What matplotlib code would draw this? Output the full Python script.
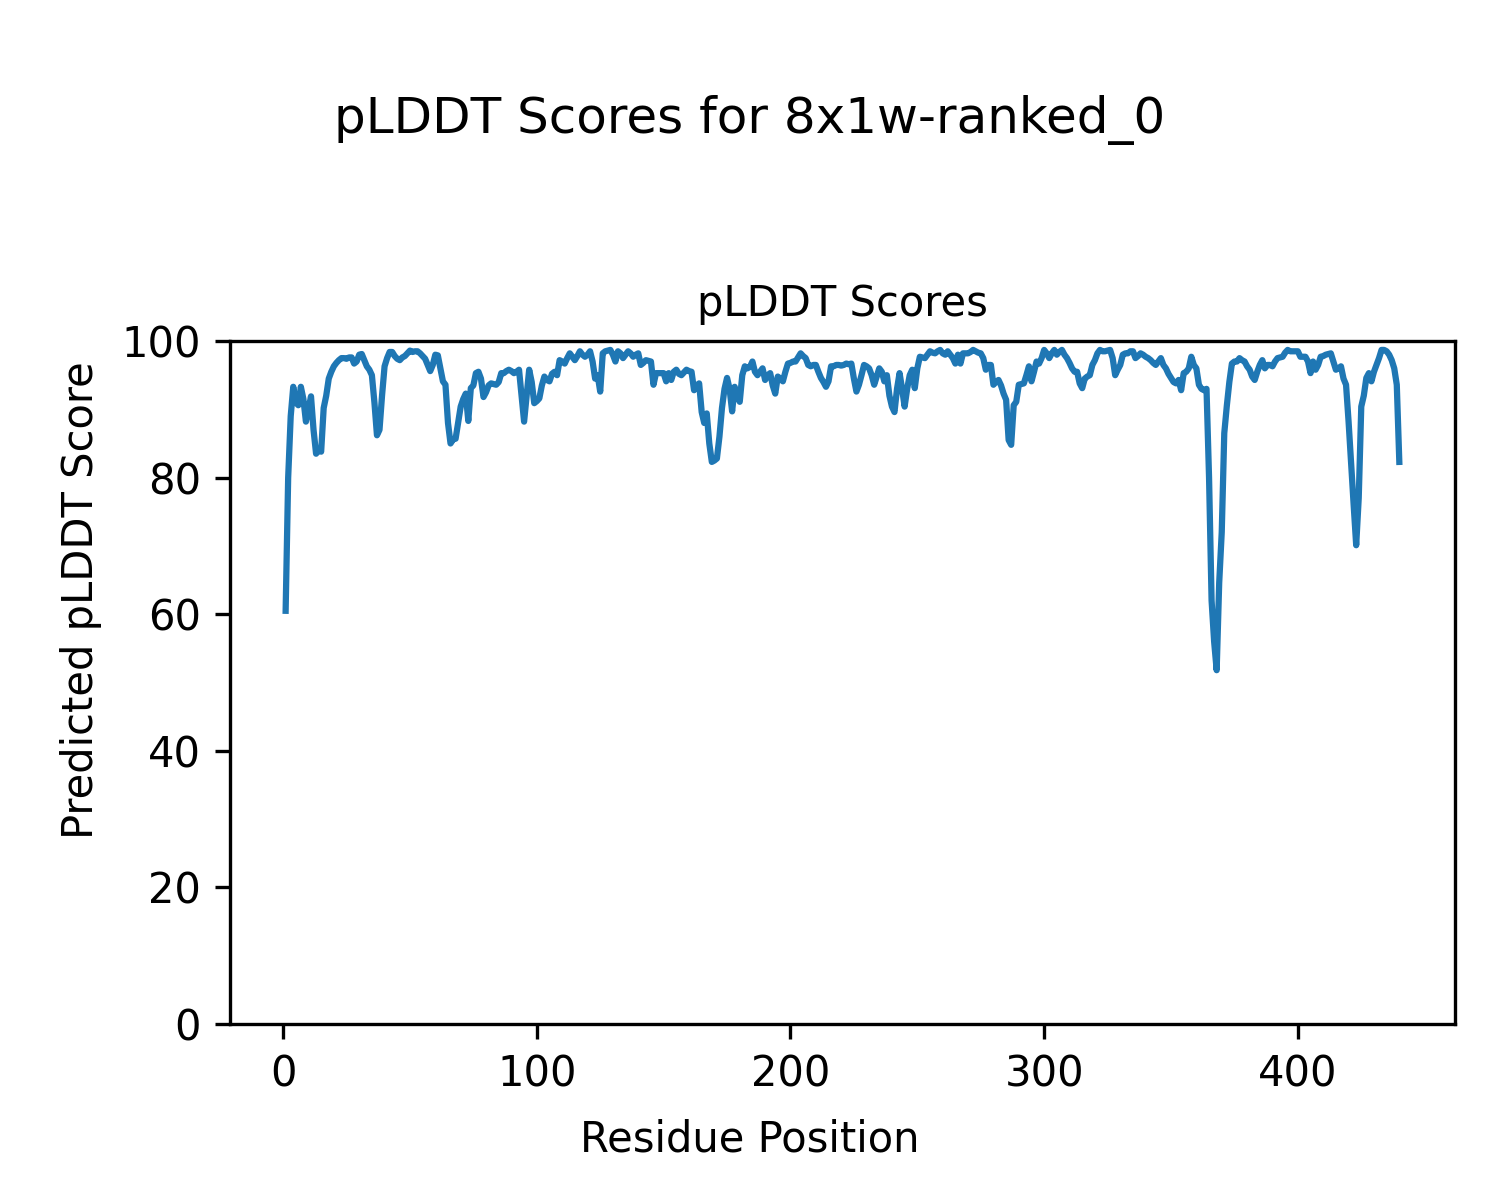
import matplotlib
matplotlib.use('Agg')
import matplotlib.pyplot as plt

# pLDDT per residue (residues 1..440)
plddt_scores = [
    60.5, 80.0, 89.0, 93.3, 91.0, 90.6, 93.3, 91.5, 88.2, 90.0,
    91.9, 87.0, 83.5, 84.0, 83.8, 90.2, 92.0, 94.5, 95.5, 96.3,
    96.8, 97.2, 97.5, 97.5, 97.4, 97.6, 97.6, 96.7, 97.0, 98.0,
    98.1, 97.2, 96.3, 95.8, 95.0, 91.0, 86.2, 87.0, 92.0, 96.3,
    97.5, 98.4, 98.4, 97.8, 97.4, 97.2, 97.6, 97.8, 98.2, 98.6,
    98.4, 98.5, 98.5, 98.2, 97.8, 97.4, 96.5, 95.6, 96.5, 98.0,
    97.9, 96.0, 94.1, 93.6, 88.0, 85.0, 85.6, 85.7, 88.0, 90.4,
    91.5, 92.3, 88.3, 93.1, 93.5, 95.3, 95.5, 94.5, 91.8, 92.5,
    93.5, 93.8, 93.7, 93.6, 94.0, 95.3, 95.3, 95.6, 95.8, 95.6,
    95.3, 95.5, 95.8, 92.0, 88.2, 92.0, 95.8, 94.0, 90.9, 91.2,
    91.6, 93.5, 94.8, 94.3, 94.1, 95.2, 95.5, 95.0, 97.2, 97.0,
    96.7, 97.5, 98.2, 97.7, 97.2, 97.8, 98.5, 98.0, 97.7, 98.0,
    98.5, 97.0, 94.5, 95.0, 92.6, 98.2, 98.5, 98.6, 98.7, 98.0,
    97.0, 98.5, 98.2, 97.5, 98.0, 98.5, 98.2, 97.7, 98.0, 98.2,
    96.5, 96.8, 97.2, 97.1, 97.0, 93.6, 95.3, 95.3, 95.3, 95.3,
    94.1, 95.3, 94.3, 95.5, 95.8, 95.2, 95.0, 95.4, 95.8, 95.6,
    95.5, 92.8, 93.5, 93.8, 89.6, 88.0, 89.4, 85.0, 82.3, 82.5,
    82.8, 86.0, 90.2, 93.0, 94.6, 93.0, 89.7, 93.3, 92.0, 91.1,
    95.0, 96.3, 96.0, 96.2, 97.0, 95.5, 95.0, 95.5, 96.0, 94.3,
    95.0, 95.3, 93.5, 92.3, 94.8, 94.5, 94.1, 95.5, 96.7, 96.8,
    97.0, 97.0, 97.6, 98.2, 97.8, 97.5, 96.5, 96.3, 96.5, 96.5,
    95.5, 94.6, 94.0, 93.3, 94.1, 96.3, 96.3, 96.5, 96.5, 96.4,
    96.5, 96.7, 96.6, 96.7, 94.5, 92.6, 93.6, 95.0, 96.5, 96.3,
    96.0, 95.0, 93.6, 94.8, 96.0, 95.5, 94.1, 95.0, 92.0, 90.4,
    89.6, 93.0, 95.3, 93.0, 90.4, 93.0, 95.0, 95.8, 93.1, 96.0,
    97.7, 97.6, 97.5, 98.0, 98.5, 98.3, 98.2, 98.5, 98.7, 98.2,
    98.0, 98.5, 98.0, 97.5, 96.7, 98.0, 96.7, 98.2, 98.2, 98.2,
    98.4, 98.7, 98.5, 98.3, 98.2, 97.5, 95.8, 96.5, 96.5, 93.6,
    94.0, 94.3, 93.5, 92.3, 91.4, 85.5, 84.8, 90.6, 91.1, 93.6,
    93.7, 93.8, 95.0, 96.3, 94.1, 95.5, 97.0, 96.7, 97.5, 98.7,
    98.2, 97.5, 98.2, 98.7, 98.0, 98.4, 98.7, 98.0, 97.5, 96.8,
    96.0, 95.5, 95.5, 93.8, 93.1, 94.5, 94.8, 95.0, 96.5, 97.2,
    98.2, 98.7, 98.5, 98.5, 98.6, 98.7, 97.5, 95.0, 95.8, 96.5,
    98.0, 98.2, 98.2, 98.5, 98.5, 97.5, 97.8, 98.2, 98.0, 97.7,
    97.5, 97.2, 96.8, 96.5, 97.0, 97.5, 96.5, 96.0, 95.2, 94.6,
    94.0, 93.8, 94.3, 92.8, 95.3, 95.5, 96.0, 97.7, 96.5, 96.0,
    93.6, 93.0, 92.8, 93.0, 80.0, 62.0, 56.0, 51.8, 64.6, 72.0,
    86.5, 90.5, 94.0, 96.7, 97.0, 97.0, 97.5, 97.2, 97.0, 96.3,
    95.8, 94.8, 94.3, 95.5, 96.5, 97.2, 96.0, 96.5, 96.5, 96.3,
    97.0, 97.5, 97.6, 97.7, 98.3, 98.7, 98.5, 98.5, 98.5, 98.5,
    97.7, 97.7, 97.7, 97.0, 95.3, 97.0, 95.8, 96.5, 97.7, 97.8,
    98.0, 98.1, 98.2, 97.0, 95.8, 96.0, 96.3, 94.5, 93.6, 88.2,
    82.0, 76.0, 70.1, 77.0, 90.4, 92.0, 94.6, 95.3, 94.1, 95.5,
    96.5, 97.5, 98.7, 98.7, 98.5, 98.0, 97.2, 96.0, 93.6, 82.3,
]
residues = list(range(1, len(plddt_scores) + 1))

fig = plt.figure(figsize=(5, 4), dpi=300)
fig.suptitle('pLDDT Scores for 8x1w-ranked_0', y=0.921)
ax = fig.add_axes([0.1533, 0.1467, 0.8167, 0.5691])
ax.plot(residues, plddt_scores)
ax.set_ylim(0, 100)
ax.set_title('pLDDT Scores', fontsize=10)

# shared labels placed on the figure, not the axes
fig.text(0.5, 0.04, 'Residue Position', ha='center')
fig.text(0.04, 0.5, 'Predicted pLDDT Score', va='center', rotation='vertical')

fig.savefig('out.png', dpi=300)
